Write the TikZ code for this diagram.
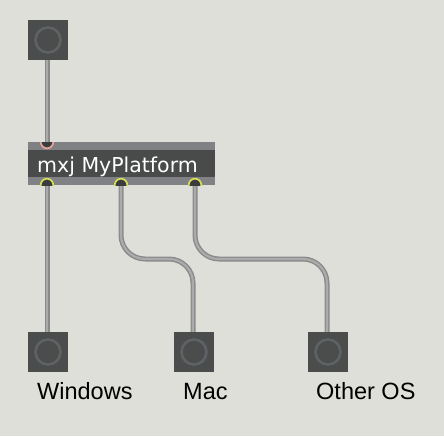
\documentclass[tikz,border=0pt]{standalone}
\usepackage{fontspec}
\setmainfont{Liberation Sans}
\newfontfamily\objfont{DejaVu Sans}
\definecolor{bgc}{HTML}{DFDFD9}
\definecolor{bangfill}{HTML}{4A4D4C}
\definecolor{bangring}{HTML}{5F6265}
\definecolor{stripc}{HTML}{7F8185}
\definecolor{objdark}{HTML}{484B4A}
\definecolor{cordout}{HTML}{8A8A8A}
\definecolor{cordin}{HTML}{ABABAB}
\definecolor{inletc}{HTML}{E8A296}
\definecolor{outletc}{HTML}{D6DC58}
\definecolor{portfill}{HTML}{3A3C3D}
\begin{document}
\begin{tikzpicture}[x=1pt,y=-1pt,
  bang/.style={rectangle, fill=bangfill, draw=none, minimum size=40pt, inner sep=0pt,
    path picture={\draw[bangring, line width=2.6pt] (path picture bounding box.center) circle (12.5pt);}},
  objbox/.style={rectangle, fill=objdark, draw=none, minimum width=187pt, minimum height=43pt, inner sep=0pt,
    path picture={
      \fill[stripc] (path picture bounding box.north west) rectangle ([yshift=-8pt]path picture bounding box.north east);
      \fill[stripc] ([yshift=8pt]path picture bounding box.south west) rectangle (path picture bounding box.south east);}},
  objtext/.style={text=white, inner sep=0pt, font=\objfont\fontsize{20.5}{24}\selectfont},
  lbl/.style={text=black, inner sep=0pt, font=\fontsize{23.5}{27}\selectfont},
  cord/.style={draw=cordout, line width=1.4pt, double=cordin, double distance=2.2pt, rounded corners=24pt},
  inport/.style={fill=portfill, draw=inletc, line width=1.7pt},
  outport/.style={fill=portfill, draw=outletc, line width=1.7pt}
]
\fill[bgc] (0,0) rectangle (444,436);
\useasboundingbox (0,0) rectangle (444,436);

% bangs
\node[bang] (in) at (48,40) {};
\node[bang] (win) at (48,352) {};
\node[bang] (mac) at (194,352) {};
\node[bang] (oth) at (328,352) {};

% object
\node[objbox, anchor=north west] (obj) at (28,142) {};
\node[objtext, anchor=base west] (objlabel) at (37,172) {mxj MyPlatform};

% ports
\coordinate (inlet) at (47,142);
\coordinate (o1) at (47,185);
\coordinate (o2) at (121,185);
\coordinate (o3) at (195,185);
\coordinate (h2) at (121,259);
\coordinate (h3) at (195,259);

% cords from outlets
\draw[cord] (o1) -- (o1 |- win.north);
\draw[cord] (o2) -- (h2) -- ([xshift=-1pt]h2 -| mac.north) -- ([xshift=-1pt]mac.north);
\draw[cord] (o3) -- (h3) -- ([xshift=-1pt]h3 -| oth.north) -- ([xshift=-1pt]oth.north);

% port markers
\begin{scope}
\clip (obj.north west) rectangle (obj.south east);
\filldraw[inport] (inlet) circle (6.3pt);
\foreach \p in {o1,o2,o3}{
  \filldraw[outport] (\p) circle (6.3pt);
}
\end{scope}

% cord into the inlet
\draw[cord] (in.south -| inlet) -- (inlet);

% labels
\node[lbl, anchor=base west] (lwin) at (37,399) {Windows};
\node[lbl, anchor=base west] (lmac) at (183,399) {Mac};
\node[lbl, anchor=base west] (loth) at (316,399) {Other OS};
\end{tikzpicture}
\end{document}
